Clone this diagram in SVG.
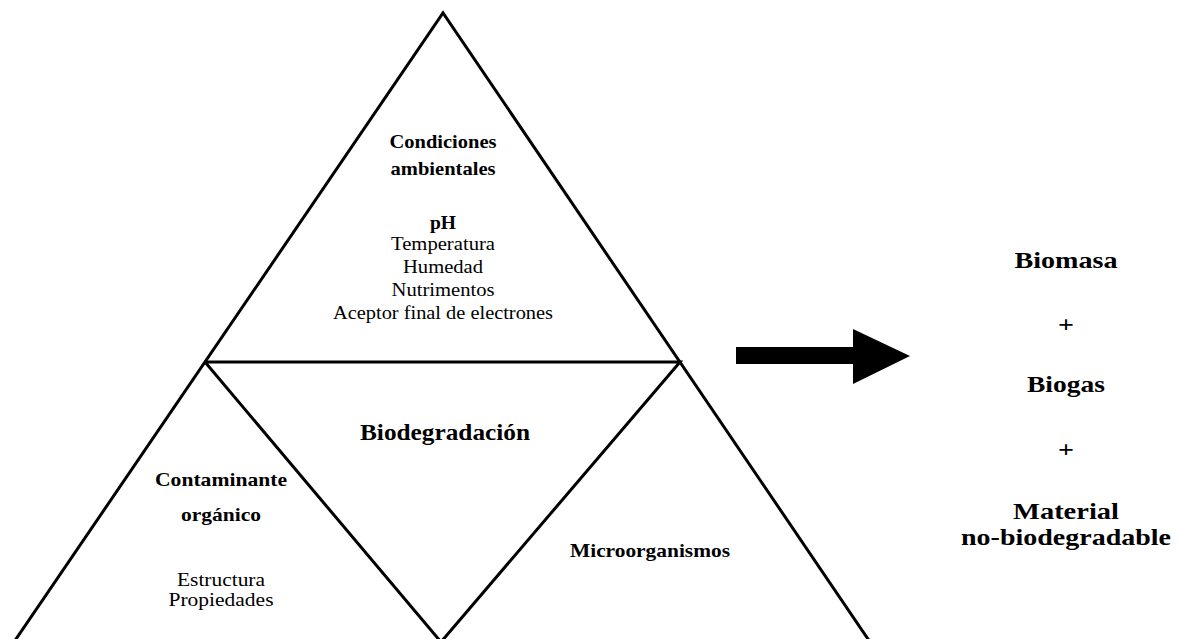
<svg xmlns="http://www.w3.org/2000/svg" width="1180" height="639" viewBox="0 0 1180 639">
<style>
.ln{fill:none;stroke:#000;stroke-width:3;stroke-linejoin:miter}
text{font-family:"Liberation Serif","Times New Roman",serif;fill:#000;text-anchor:middle}
.b{font-weight:bold}
.s{font-size:19px}
.m{font-size:24px;font-weight:bold}
.l{font-size:23px;font-weight:bold}
</style>
<rect width="1180" height="639" fill="#fff"/>
<g id="connectors">
<polyline class="ln" points="14,642 443,13 870,642"/>
<polyline class="ln" points="205,362 680,362 441,642 205,362"/>
<polygon points="736,347 853,347 853,329 910,356 853,384 853,364 736,364" fill="#000"/>
</g>
<g id="top">
<text class="s b" x="443" y="148" textLength="107" lengthAdjust="spacingAndGlyphs">Condiciones</text>
<text class="s b" x="443" y="175" textLength="105" lengthAdjust="spacingAndGlyphs">ambientales</text>
<text class="s b" x="443" y="229" textLength="26" lengthAdjust="spacingAndGlyphs">pH</text>
<text class="s" x="443" y="250" textLength="104" lengthAdjust="spacingAndGlyphs">Temperatura</text>
<text class="s" x="443" y="273" textLength="80" lengthAdjust="spacingAndGlyphs">Humedad</text>
<text class="s" x="443" y="296" textLength="103" lengthAdjust="spacingAndGlyphs">Nutrimentos</text>
<text class="s" x="443" y="319" textLength="220" lengthAdjust="spacingAndGlyphs">Aceptor final de electrones</text>
</g>
<g id="center">
<text class="m" x="445" y="440" textLength="170" lengthAdjust="spacingAndGlyphs">Biodegradación</text>
</g>
<g id="left">
<text class="s b" x="221" y="486" textLength="132" lengthAdjust="spacingAndGlyphs">Contaminante</text>
<text class="s b" x="221" y="521" textLength="80" lengthAdjust="spacingAndGlyphs">orgánico</text>
<text class="s" x="221" y="586" textLength="88" lengthAdjust="spacingAndGlyphs">Estructura</text>
<text class="s" x="221" y="606" textLength="105" lengthAdjust="spacingAndGlyphs">Propiedades</text>
</g>
<g id="right">
<text class="s b" x="650" y="557" textLength="160" lengthAdjust="spacingAndGlyphs">Microorganismos</text>
</g>
<g id="products">
<text class="l" x="1066" y="268" textLength="103" lengthAdjust="spacingAndGlyphs">Biomasa</text>
<text class="l" x="1066" y="332" textLength="16" lengthAdjust="spacingAndGlyphs">+</text>
<text class="l" x="1066" y="392" textLength="78" lengthAdjust="spacingAndGlyphs">Biogas</text>
<text class="l" x="1066" y="457" textLength="16" lengthAdjust="spacingAndGlyphs">+</text>
<text class="l" x="1066" y="519" textLength="106" lengthAdjust="spacingAndGlyphs">Material</text>
<text class="l" x="1066" y="545" textLength="210" lengthAdjust="spacingAndGlyphs">no-biodegradable</text>
</g>
</svg>
